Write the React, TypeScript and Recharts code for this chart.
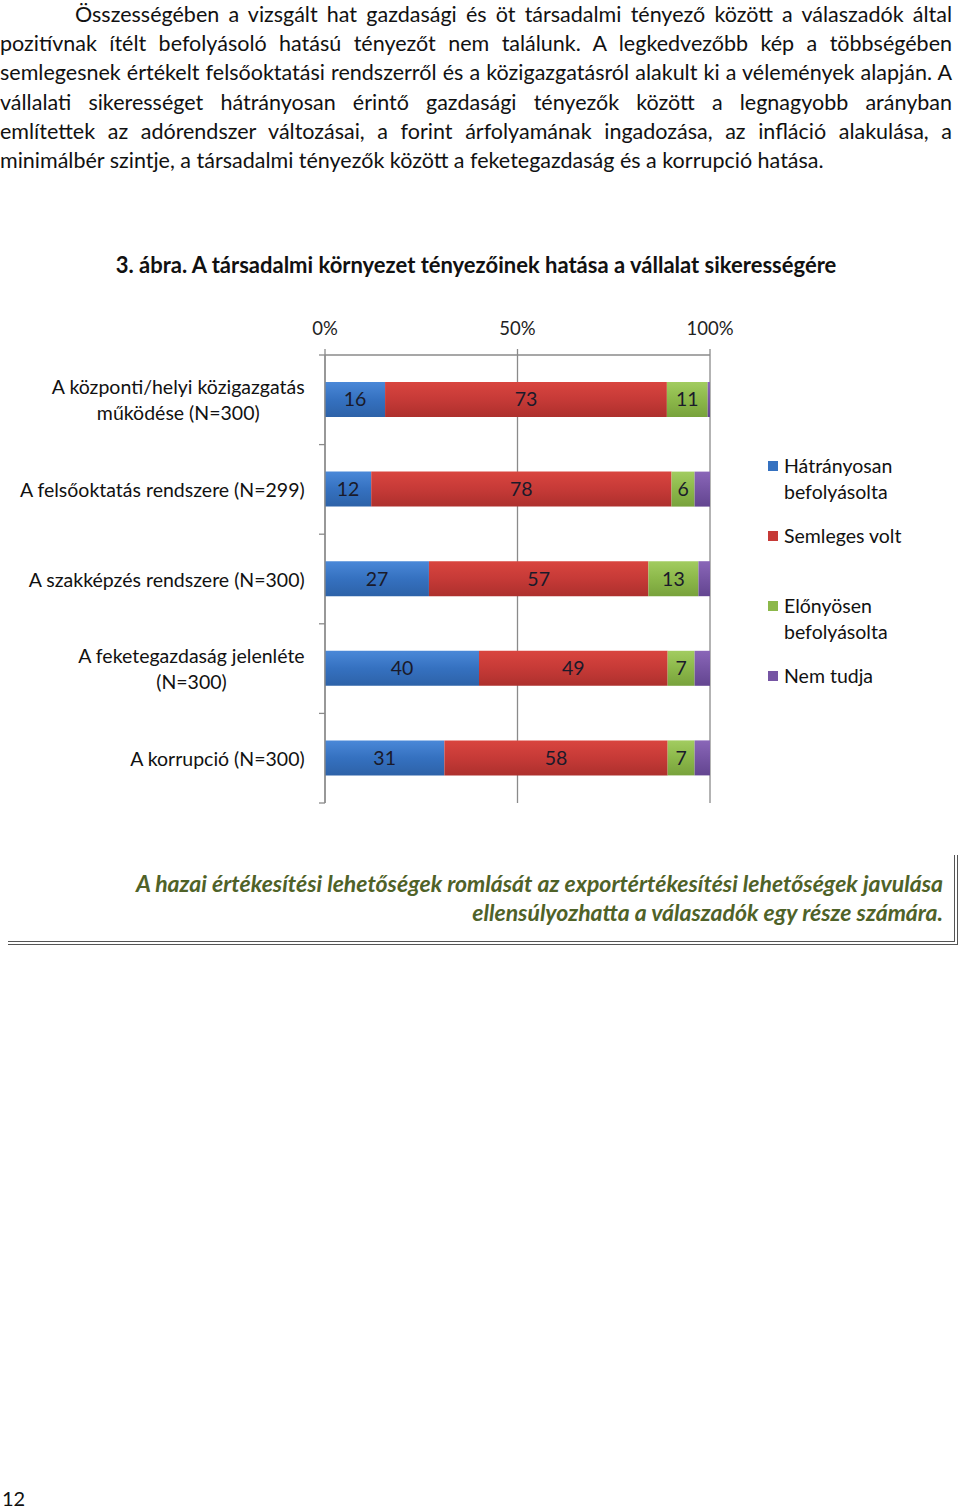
import { BarChart, Bar, XAxis, YAxis, CartesianGrid, Legend, LabelList } from "recharts";

// --- data ---
const CATEGORIES = [
  "A központi/helyi közigazgatás\nműködése (N=300)",
  "A felsőoktatás rendszere (N=299)",
  "A szakképzés rendszere (N=300)",
  "A feketegazdaság jelenléte\n(N=300)",
  "A korrupció (N=300)",
];
const HATRANYOS = [15.6, 12, 27, 40, 31];
const SEMLEGES = [73.2, 78, 57, 49, 58];
const ELONYOS = [10.6, 6, 13, 7, 7];
const NEM_TUDJA = [0.6, 4, 3, 4, 4];
const X_TICKS = [0, 50, 100];

const SERIES_KEYS = ["hatranyos", "semleges", "elonyos", "nemtudja"];
const SERIES_NAMES = ["Hátrányosan\nbefolyásolta", "Semleges volt", "Előnyösen\nbefolyásolta", "Nem tudja"];
const SERIES_COLORS = [
  ["#4a88d8", "#3571c0", "#2d62a8"],
  ["#d9453f", "#c63a37", "#ad302d"],
  ["#a2cc60", "#8cb84a", "#78a23c"],
  ["#8a66b8", "#7655a4", "#634590"],
];
const LABELLED = [true, true, true, false];

const PARAGRAPH = [
  "Összességében a vizsgált hat gazdasági és öt társadalmi tényező között a válaszadók által",
  "pozitívnak ítélt befolyásoló hatású tényezőt nem találunk. A legkedvezőbb kép a többségében",
  "semlegesnek értékelt felsőoktatási rendszerről és a közigazgatásról alakult ki a vélemények alapján. A",
  "vállalati sikerességet hátrányosan érintő gazdasági tényezők között a legnagyobb arányban",
  "említettek az adórendszer változásai, a forint árfolyamának ingadozása, az infláció alakulása, a",
  "minimálbér szintje, a társadalmi tényezők között a feketegazdaság és a korrupció hatása.",
];
const TITLE = "3. ábra. A társadalmi környezet tényezőinek hatása a vállalat sikerességére";
const CALLOUT = [
  "A hazai értékesítési lehetőségek romlását az exportértékesítési lehetőségek javulása",
  "ellensúlyozhatta a válaszadók egy része számára.",
];

const data = CATEGORIES.map((name, i) => ({
  name,
  hatranyos: HATRANYOS[i],
  semleges: SEMLEGES[i],
  elonyos: ELONYOS[i],
  nemtudja: NEM_TUDJA[i],
}));

const FONT = "Lato, 'Open Sans', sans-serif";
const AXIS_GRAY = "#8a8a8a";
const TICK_MARGIN = 20;
const PLOT_H = 448;
const LABEL_SIZE = 19.5;

let measureCtx: CanvasRenderingContext2D | null = null;
function textWidth(s: string, font: string) {
  if (!measureCtx) measureCtx = document.createElement("canvas").getContext("2d");
  if (!measureCtx) return s.length * 9;
  measureCtx.font = font;
  return measureCtx.measureText(s).width;
}

function CategoryTick(props: any) {
  const { x, y, payload, index, visibleTicksCount } = props;
  const half = payload.offset || PLOT_H / CATEGORIES.length / 2;
  const axisX = x + TICK_MARGIN;
  const lines = String(payload.value).split("\n");
  const w = Math.max(...lines.map((l) => textWidth(l, `${LABEL_SIZE}px Lato`)));
  const cx = x - w / 2;
  const lh = 26;
  const top = y - ((lines.length - 1) * lh) / 2;
  return (
    <g>
      <line x1={axisX - 6} x2={axisX} y1={y - half} y2={y - half} stroke={AXIS_GRAY} strokeWidth={1.3} />
      {index === visibleTicksCount - 1 && (
        <line x1={axisX - 6} x2={axisX} y1={y + half} y2={y + half} stroke={AXIS_GRAY} strokeWidth={1.3} />
      )}
      {lines.map((l, i) => (
        <text key={i} x={cx} y={top + i * lh} textAnchor="middle" dominantBaseline="central" fontSize={LABEL_SIZE} fontFamily={FONT} fill="#111">
          {l}
        </text>
      ))}
    </g>
  );
}

function LegendContent() {
  return (
    <div style={{ fontFamily: FONT, fontSize: LABEL_SIZE, color: "#111" }}>
      {SERIES_NAMES.map((n, i) => (
        <div key={n} style={{ height: 70, display: "flex", alignItems: "flex-start" }}>
          <span style={{ width: 10, height: 10, background: SERIES_COLORS[i][1], marginTop: 8, marginRight: 6, flex: "none" }} />
          <div style={{ whiteSpace: "pre-line", lineHeight: "26px" }}>{n}</div>
        </div>
      ))}
    </div>
  );
}

export default function App() {
  return (
    <div style={{ position: "absolute", left: 0, top: 0, width: 960, height: 1509, background: "#fff", overflow: "hidden", fontFamily: FONT, color: "#111" }}>
      <div style={{ position: "absolute", left: 0, top: 0, width: 952, fontSize: 21.5, lineHeight: "29.2px" }}>
        {PARAGRAPH.map((l, i) => (
          <div
            key={i}
            style={{
              textAlign: "justify",
              textAlignLast: i < PARAGRAPH.length - 1 ? "justify" : "left",
              paddingLeft: i === 0 ? 75 : 0,
              whiteSpace: "nowrap",
            }}
          >
            {l}
          </div>
        ))}
      </div>

      <div style={{ position: "absolute", left: 0, top: 251, width: 952, textAlign: "center", fontWeight: 700, fontSize: 22, lineHeight: "28px" }}>
        {TITLE}
      </div>

      <div style={{ position: "absolute", left: 0, top: 300 }}>
        <BarChart width={960} height={520} data={data} layout="vertical" margin={{ top: 15, right: 250, left: 0, bottom: 17 }} barSize={35}>
          <defs>
            {SERIES_COLORS.map((c, i) => (
              <linearGradient key={i} id={`grad${i}`} x1="0" y1="0" x2="0" y2="1">
                <stop offset="0%" stopColor={c[0]} />
                <stop offset="50%" stopColor={c[1]} />
                <stop offset="100%" stopColor={c[2]} />
              </linearGradient>
            ))}
          </defs>
          <CartesianGrid horizontal={false} stroke={AXIS_GRAY} strokeWidth={1.3} />
          <XAxis
            type="number"
            orientation="top"
            domain={[0, 100]}
            ticks={X_TICKS}
            height={40}
            tickFormatter={(v) => `${v}%`}
            axisLine={{ stroke: AXIS_GRAY, strokeWidth: 1.3 }}
            tickLine={{ stroke: AXIS_GRAY, strokeWidth: 1.3 }}
            tickSize={6}
            tickMargin={14}
            tick={{ fill: "#222", fontSize: 18.5, fontFamily: FONT }}
          />
          <YAxis
            type="category"
            dataKey="name"
            width={325}
            axisLine={{ stroke: AXIS_GRAY, strokeWidth: 1.3 }}
            tickLine={false}
            tickSize={0}
            tickMargin={TICK_MARGIN}
            tick={<CategoryTick />}
            interval={0}
          />
          <Legend
            layout="vertical"
            align="center"
            verticalAlign="middle"
            content={<LegendContent />}
            wrapperStyle={{ left: 768, top: 153, width: 190, height: 290 }}
          />
          {SERIES_KEYS.map((k, i) => (
            <Bar key={k} dataKey={k} name={SERIES_NAMES[i]} stackId="a" fill={`url(#grad${i})`} isAnimationActive={false}>
              {LABELLED[i] && (
                <LabelList
                  dataKey={k}
                  position="center"
                  formatter={(v: any) => Math.round(Number(v))}
                  fill="#1a1a2a"
                  fontSize={LABEL_SIZE}
                  fontFamily={FONT}
                />
              )}
            </Bar>
          ))}
        </BarChart>
      </div>

      <div
        style={{
          position: "absolute",
          left: 8,
          top: 855,
          width: 946,
          height: 86,
          borderRight: "4px double #555",
          borderBottom: "4px double #555",
          boxSizing: "content-box",
        }}
      >
        <div style={{ paddingTop: 14, paddingRight: 11, textAlign: "right", color: "#4f6228", fontStyle: "italic", fontWeight: 700, fontSize: 23, lineHeight: "29px", whiteSpace: "nowrap" }}>
          {CALLOUT.map((l, i) => (
            <div key={i}>{l}</div>
          ))}
        </div>
      </div>

      <div style={{ position: "absolute", left: 2, top: 1486, fontSize: 20, lineHeight: "24px" }}>12</div>
    </div>
  );
}
